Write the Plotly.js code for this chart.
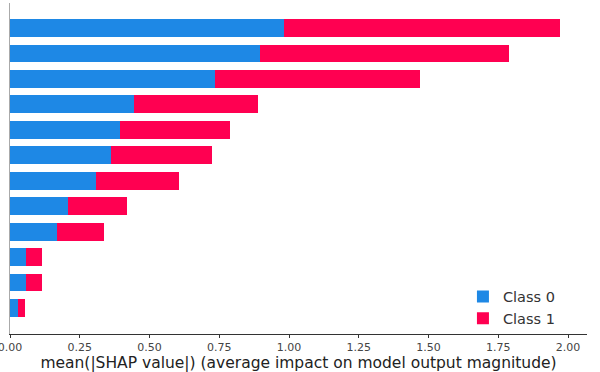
<!DOCTYPE html>
<html>
<head>
<meta charset="utf-8">
<script src="https://cdn.plot.ly/plotly-3.0.1.min.js"></script>
<style>html,body{margin:0;padding:0;background:#fff;}#chart{width:600px;height:372px;}</style>
</head>
<body>
<div id="chart"></div>
<script>
// Features ordered bottom to top (index 0 = bottom bar)
const features = ["F12","F11","F10","F9","F8","F7","F6","F5","F4","F3","F2","F1"];
const class0 = [0.029,0.057,0.057,0.168,0.208,0.308,0.362,0.394,0.445,0.735,0.896,0.982];
const class1 = [0.025,0.058,0.058,0.169,0.211,0.298,0.362,0.395,0.444,0.735,0.893,0.989];
const seriesNames = ["Class 0","Class 1"];
const tickVals = [0,0.25,0.5,0.75,1.0,1.25,1.5,1.75,2.0];
const tickText = ["0.00","0.25","0.50","0.75","1.00","1.25","1.50","1.75","2.00"];

const font = "DejaVu Sans, sans-serif";
const data = [
  {type:"bar", orientation:"h", y:features.map((f,i)=>i), x:class0, name:seriesNames[0],
   marker:{color:"#1E88E5", line:{width:0}}, width:0.7, hoverinfo:"x+name"},
  {type:"bar", orientation:"h", y:features.map((f,i)=>i), x:class1, name:seriesNames[1],
   marker:{color:"#FF0051", line:{width:0}}, width:0.7, hoverinfo:"x+name"}
];
const layout = {
  width:600, height:372,
  barmode:"stack",
  margin:{l:10, r:13, t:3, b:38},
  paper_bgcolor:"#fff", plot_bgcolor:"#fff",
  font:{family:font, color:"#333"},
  xaxis:{range:[0,2.068], tickvals:tickVals, ticktext:tickText, ticks:"outside", ticklen:3,
         tickcolor:"#333", showline:true, linecolor:"#333", linewidth:1, showgrid:false, zeroline:false,
         ticklabeloverflow:"allow",
         tickfont:{size:11, color:"#444", family:font},
         title:{text:"mean(|SHAP value|) (average impact on model output magnitude)", standoff:3,
                font:{size:15.5, color:"#222", family:font}}},
  yaxis:{range:[-1.02,11.98], showticklabels:false, ticks:"", showline:true, linecolor:"#aaa",
         linewidth:1, showgrid:false, zeroline:false},
  showlegend:true,
  legend:{x:0.785, y:0.08, xanchor:"left", yanchor:"middle", traceorder:"normal",
          font:{size:14.5, color:"#333", family:font}, bgcolor:"rgba(255,255,255,0)", itemwidth:30,
          tracegroupgap:0}
};
Plotly.newPlot("chart", data, layout, {staticPlot:true, displayModeBar:false});
</script>
</body>
</html>
